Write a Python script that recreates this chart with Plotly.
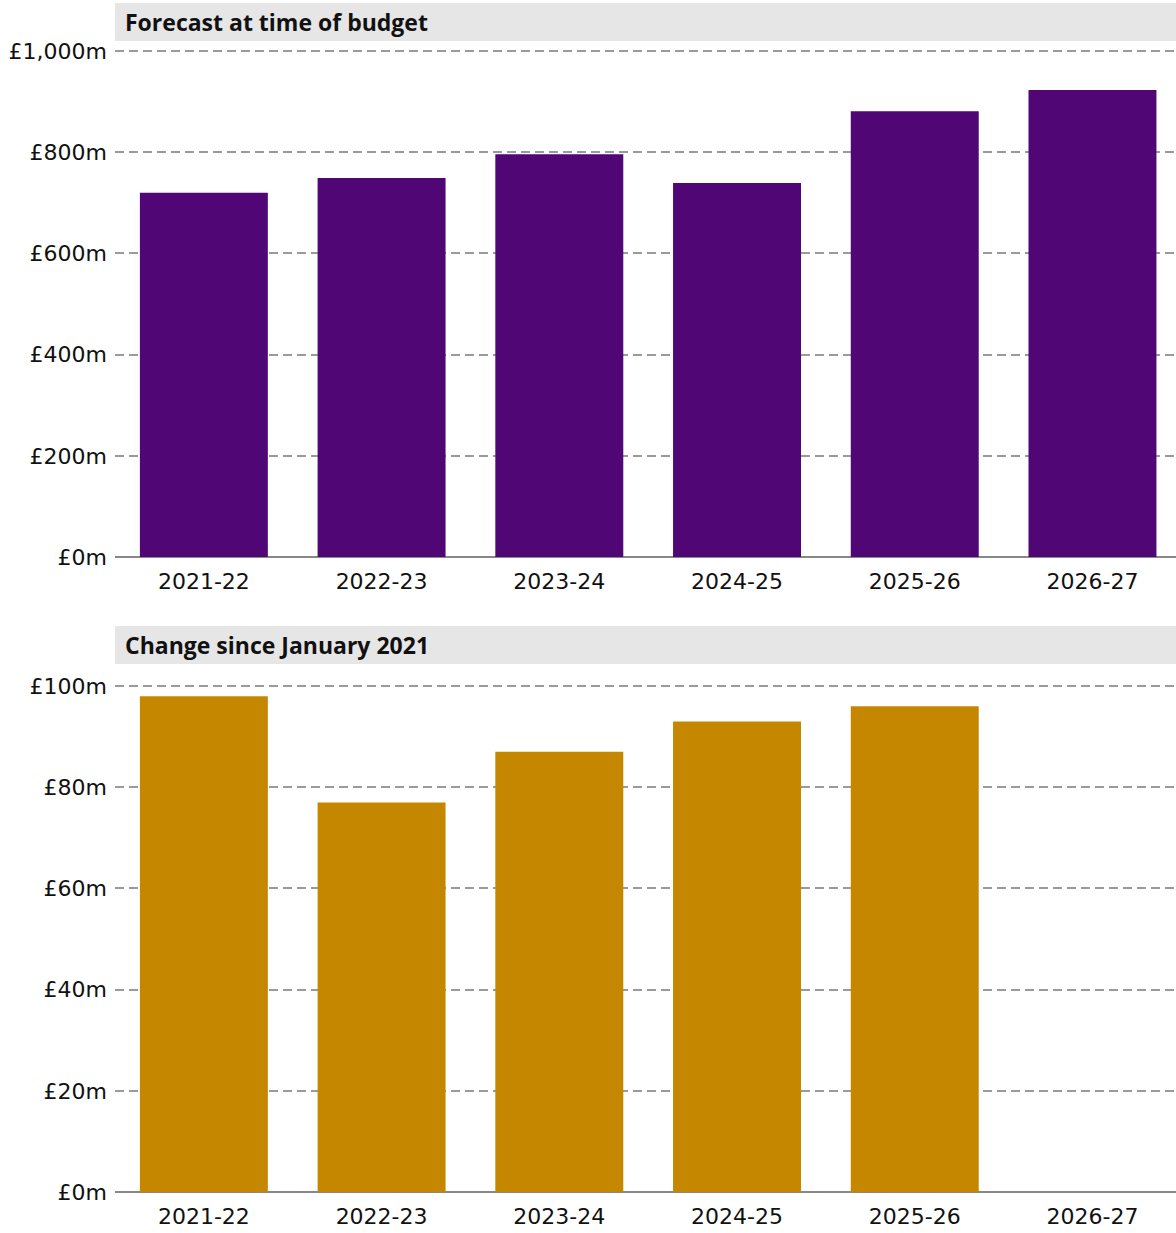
import plotly.graph_objects as go
from plotly.subplots import make_subplots

# Financial years shown on both panels
years = ["2021-22", "2022-23", "2023-24", "2024-25", "2025-26", "2026-27"]

# Forecast at time of budget (£m)
forecast_budget = [720, 749, 796, 739, 881, 923]

# Change since January 2021 (£m); no figure for 2026-27
change_since_jan = [98, 77, 87, 93, 96, None]

purple = "#510675"
gold = "#C68700"
grid_col = "#9a9a9a"
tick_font = "DejaVu Sans, sans-serif"
head_font = "Open Sans, sans-serif"

fig = make_subplots(rows=2, cols=1, shared_xaxes=False, vertical_spacing=0.1)

fig.add_trace(go.Bar(x=years, y=forecast_budget, marker_color=purple,
                     marker_line_width=0, width=0.72, showlegend=False,
                     hoverinfo="x+y"), row=1, col=1)
fig.add_trace(go.Bar(x=years, y=change_since_jan, marker_color=gold,
                     marker_line_width=0, width=0.72, showlegend=False,
                     hoverinfo="x+y"), row=2, col=1)

plot_h = 1192.0  # height of the plotting region in px (figure minus bottom margin)


def py(px):
    return 1 - px / plot_h


axis_common = dict(
    showline=False,
    automargin=False,
    tickfont=dict(family=tick_font, size=22, color="#111111"),
    ticks="",
)

fig.update_xaxes(**axis_common, range=[-0.5, 5.47], showgrid=False,
                 ticklabelstandoff=9, categoryorder="array", categoryarray=years)
fig.update_yaxes(**axis_common, showgrid=True, gridcolor=grid_col, gridwidth=1.6,
                 griddash="9px,5px", zeroline=True, zerolinecolor="#888888",
                 zerolinewidth=1.6, ticklabelstandoff=7)

# Ranges run a touch past the top tick so its gridline is still drawn
fig.update_yaxes(range=[0, 1004], tickvals=[0, 200, 400, 600, 800, 1000],
                 ticktext=["£0m", "£200m", "£400m", "£600m", "£800m", "£1,000m"],
                 domain=[py(557), py(49)], row=1, col=1)
fig.update_yaxes(range=[0, 100.4], tickvals=[0, 20, 40, 60, 80, 100],
                 ticktext=["£0m", "£20m", "£40m", "£60m", "£80m", "£100m"],
                 domain=[py(1192), py(684)], row=2, col=1)

# Panel heading bands
headings = [("Forecast at time of budget", 3, 41),
            ("Change since January 2021", 626, 664)]
for text, top, bottom in headings:
    fig.add_shape(type="rect", xref="paper", yref="paper", x0=0, x1=1,
                  y0=py(bottom), y1=py(top), fillcolor="#e6e6e6",
                  line_width=0, layer="below")
    fig.add_annotation(text=f"<b>{text}</b>", xref="paper", yref="paper",
                       x=0, y=(py(top) + py(bottom)) / 2, xanchor="left",
                       yanchor="middle", xshift=8, showarrow=False,
                       font=dict(family=head_font, size=23, color="#111111"))

fig.update_layout(
    width=1176, height=1233,
    margin=dict(l=115, r=0, t=0, b=41, autoexpand=False),
    plot_bgcolor="white", paper_bgcolor="white",
    bargap=0.28,
)

fig.write_html("out.html")
